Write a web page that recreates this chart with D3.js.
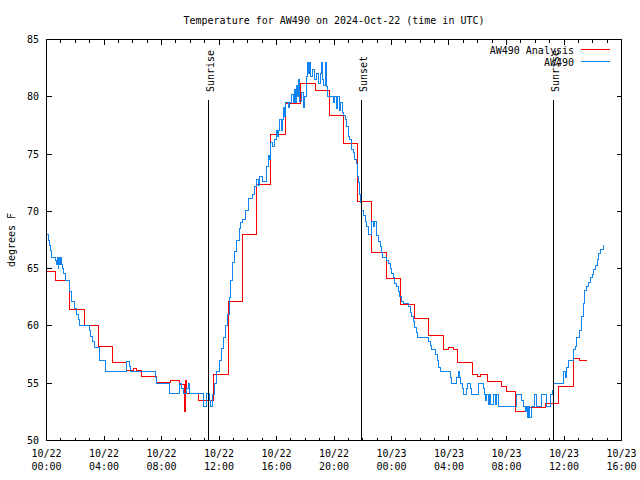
<!DOCTYPE html>
<html><head><meta charset="utf-8">
<script src="https://cdn.jsdelivr.net/npm/d3@7"></script>
<style>
html,body{margin:0;padding:0;background:#fff;}
svg{display:block;}
text{font-family:"DejaVu Sans Mono","Liberation Mono",monospace;font-size:10px;fill:#000;}
</style></head>
<body>
<script>
// ---- data (hours since 2024-10-22 00:00 UTC) ----
const title = "Temperature for AW490 on 2024-Oct-22 (time in UTC)";
const yLabel = "degrees F";
const xTickHours = [0,4,8,12,16,20,24,28,32,36,40];
const xTickDates = ["10/22","10/22","10/22","10/22","10/22","10/22","10/23","10/23","10/23","10/23","10/23"];
const xTickTimes = ["00:00","04:00","08:00","12:00","16:00","20:00","00:00","04:00","08:00","12:00","16:00"];
const yTicks = [50,55,60,65,70,75,80,85];
const seriesNames = ["AW490 Analysis","AW490"];
const sunEvents = ["Sunrise","Sunset","Sunrise"];
const sunHours = [11.27, 21.91, 35.27];

const analysisHours = [0,0.64,1.59,2.61,3.63,4.60,5.58,6.05,6.25,6.64,7.67,8.60,9.25,9.60,9.66,9.72,10.56,11.60,12.63,13.60,14.62,15.60,16.62,17.68,18.68,19.67,20.65,21.65,22.62,23.67,24.64,25.60,26.60,27.65,27.99,28.30,28.60,29.65,30.00,30.20,30.70,31.62,32.00,32.66,33.63,34.68,35.65,36.65,37.07,37.58];
const analysisTemps = [64.73,64.0,61.4,60.04,58.2,56.8,56.1,56.3,56.1,55.6,55.05,55.25,54.9,52.5,55.2,54.1,53.5,55.8,62.1,68.0,72.37,76.75,79.4,81.15,80.56,78.4,75.9,70.85,66.45,64.1,61.87,60.65,59.19,57.96,58.16,57.96,56.8,55.77,55.6,55.77,55.16,54.7,54.29,52.5,52.9,53.2,54.67,57.15,56.97,56.97];

const obsHours = [0.00,0.125,0.195,0.29,0.36,0.66,0.71,0.75,0.80,0.85,0.90,0.96,1.02,1.10,1.17,1.29,1.59,1.63,1.75,1.98,2.10,2.21,2.33,2.98,3.06,3.17,3.37,3.72,4.07,5.58,5.76,5.84,7.55,7.67,8.59,9.22,9.36,9.52,9.77,9.88,9.98,10.91,11.14,
11.34,11.44,11.58,11.72,11.86,12.00,12.14,12.28,12.42,12.56,12.70,12.83,12.97,13.11,13.25,13.41,13.51,13.60,13.81,14.04,14.34,14.50,14.64,14.75,14.85,15.06,15.27,15.43,15.51,15.60,15.72,15.83,16.01,16.10,16.17,16.24,16.38,16.45,16.52,16.59,16.66,16.80,16.90,17.06,17.15,17.22,17.29,17.36,17.43,17.50,17.57,17.63,17.77,17.88,17.98,18.10,18.16,18.23,18.30,18.37,18.47,18.61,18.75,18.89,19.03,19.13,19.20,19.30,19.41,19.49,19.58,19.95,20.03,20.14,20.24,20.35,20.45,20.56,20.65,20.77,20.88,21.00,21.11,21.23,21.34,21.46,21.58,21.64,21.71,21.77,21.84,21.93,22.04,22.16,22.28,22.39,22.62,22.78,22.85,22.97,23.08,23.20,23.29,23.39,23.67,23.78,23.90,24.01,24.13,24.24,24.36,24.47,24.59,24.71,24.82,25.17,25.29,25.41,25.52,25.63,25.72,25.80,26.56,26.68,26.80,27.03,27.17,27.30,27.41,28.07,28.19,28.54,28.63,28.72,28.80,28.95,29.04,29.23,29.32,29.50,29.57,30.04,30.39,30.47,30.57,30.64,30.73,30.82,30.92,31.08,31.20,31.30,31.43,32.71,33.06,33.15,33.29,33.39,33.46,33.53,33.63,33.75,33.98,34.07,34.45,34.75,35.03,35.21,35.30,35.95,36.07,36.19,36.30,36.65,36.77,36.88,37.11,37.23,37.34,37.46,37.58,37.70,37.81,37.95,38.04,38.16,38.30,38.43,38.57,38.76];
const obsTemps = [68.0,67.5,67.06,66.6,66.0,65.75,65.4,66.0,65.0,66.0,65.4,66.0,65.4,65.0,64.6,64.0,63.5,63.0,62.1,61.5,61.0,60.6,60.0,59.6,59.1,58.6,58.1,57.0,56.0,56.9,56.5,56.0,55.5,55.0,54.1,55.0,54.5,54.1,54.5,55.0,54.1,53.0,54.1,
53.5,53.0,54.0,55.0,56.0,57.0,58.0,59.0,60.0,61.0,62.5,64.0,65.5,66.5,67.5,68.5,69.0,69.3,70.1,71.1,71.5,72.2,72.75,72.3,73.0,72.6,73.9,74.9,74.5,76.0,75.7,76.25,77.1,76.5,77.1,78.0,77.1,78.0,79.05,78.3,79.5,79.05,79.5,80.2,79.5,80.6,79.5,81.0,80.0,81.5,80.2,79.6,80.4,79.05,80.0,81.8,83.0,82.0,83.0,81.8,82.4,81.5,82.0,81.2,82.0,83.0,81.5,81.0,83.0,80.9,80.0,79.5,80.0,79.0,80.0,78.8,79.5,78.6,78.4,78.0,77.4,76.5,76.25,75.4,75.1,74.5,74.2,73.0,72.5,71.5,70.8,70.1,69.6,69.1,68.7,68.0,69.1,68.7,69.1,67.9,67.4,66.9,66.4,66.0,65.75,65.45,65.0,64.6,64.2,63.7,63.4,63.0,62.6,62.1,62.0,61.7,61.2,60.8,60.4,59.9,59.4,59.0,58.6,58.3,57.96,57.5,57.0,56.4,56.0,55.5,55.0,55.5,56.0,55.5,55.0,54.5,54.0,54.5,55.0,54.5,54.0,55.0,54.5,54.0,53.5,54.0,53.1,54.0,53.1,54.0,53.1,54.0,53.0,54.0,53.5,53.0,52.5,53.0,52.0,53.0,52.0,53.0,54.0,53.0,54.0,53.0,54.0,54.4,55.0,56.0,55.5,56.4,57.0,57.9,58.2,59.0,59.6,60.8,62.0,63.1,63.4,63.8,64.2,64.5,64.9,65.3,65.8,66.3,66.7,67.06];

const colors = ["#ff0000","#1084f0"];

// ---- chart ----
const W = 640, H = 480;
const svg = d3.select("body").append("svg").attr("width", W).attr("height", H);
const x = d3.scaleLinear().domain([0, 40]).range([46.5, 621.5]);
const y = d3.scaleLinear().domain([50, 85]).range([440.5, 39.5]);

const minorHours = d3.range(0, 41, 1);
const gTicks = svg.append("g").attr("stroke", "#000").attr("shape-rendering", "crispEdges");
minorHours.forEach(h => {
  const major = h % 4 === 0;
  const len = major ? 5 : 3;
  const px = Math.round(x(h) - 0.5) + 0.5;
  if (h > 0 && h < 40) {
    gTicks.append("line").attr("x1", px).attr("x2", px).attr("y1", 440.5).attr("y2", 440.5 - len);
    gTicks.append("line").attr("x1", px).attr("x2", px).attr("y1", 39.5).attr("y2", 39.5 + len);
  }
});
yTicks.forEach(v => {
  const py = Math.round(y(v) - 0.5) + 0.5;
  if (v > 50 && v < 85) {
    gTicks.append("line").attr("x1", 46.5).attr("x2", 51.5).attr("y1", py).attr("y2", py);
    gTicks.append("line").attr("x1", 621.5).attr("x2", 616.5).attr("y1", py).attr("y2", py);
  }
  svg.append("text").attr("x", 39).attr("y", py + 3.5).attr("text-anchor", "end").text(String(v));
});
xTickHours.forEach((h, i) => {
  const px = x(h);
  svg.append("text").attr("x", px).attr("y", 457).attr("text-anchor", "middle").text(xTickDates[i]);
  svg.append("text").attr("x", px).attr("y", 470).attr("text-anchor", "middle").text(xTickTimes[i]);
});

const line = d3.line().x(d => x(d[0])).y(d => y(d[1])).curve(d3.curveStepAfter);
const aData = analysisHours.map((h, i) => [h, analysisTemps[i]]);
const oData = obsHours.map((h, i) => [h, obsTemps[i]]);
svg.append("path").datum(aData).attr("d", line).attr("fill", "none").attr("stroke", colors[0]).attr("stroke-width", 1).attr("shape-rendering", "crispEdges");
svg.append("path").datum(oData).attr("d", line).attr("fill", "none").attr("stroke", colors[1]).attr("stroke-width", 1).attr("shape-rendering", "crispEdges");

// border
svg.append("rect").attr("x", 46.5).attr("y", 39.5).attr("width", 575).attr("height", 401)
  .attr("fill", "none").attr("stroke", "#000").attr("shape-rendering", "crispEdges");

// legend
seriesNames.forEach((n, i) => {
  const ly = 49.5 + i * 12;
  svg.append("text").attr("x", 574).attr("y", ly + 4).attr("text-anchor", "end").text(n);
  svg.append("line").attr("x1", 581).attr("x2", 610).attr("y1", ly).attr("y2", ly)
    .attr("stroke", colors[i]).attr("shape-rendering", "crispEdges");
});

// sunrise / sunset markers
sunHours.forEach((h, i) => {
  const px = Math.round(x(h) - 0.5) + 0.5;
  svg.append("line").attr("x1", px).attr("x2", px).attr("y1", y(50)).attr("y2", 100)
    .attr("stroke", "#000").attr("shape-rendering", "crispEdges");
  svg.append("text").attr("transform", `translate(${px + 5},92) rotate(-90)`).attr("text-anchor", "start").text(sunEvents[i]);
});

// titles
svg.append("text").attr("x", 334).attr("y", 24).attr("text-anchor", "middle").text(title);
svg.append("text").attr("transform", "translate(15,240) rotate(-90)").attr("text-anchor", "middle").text(yLabel);
</script>
</body></html>
